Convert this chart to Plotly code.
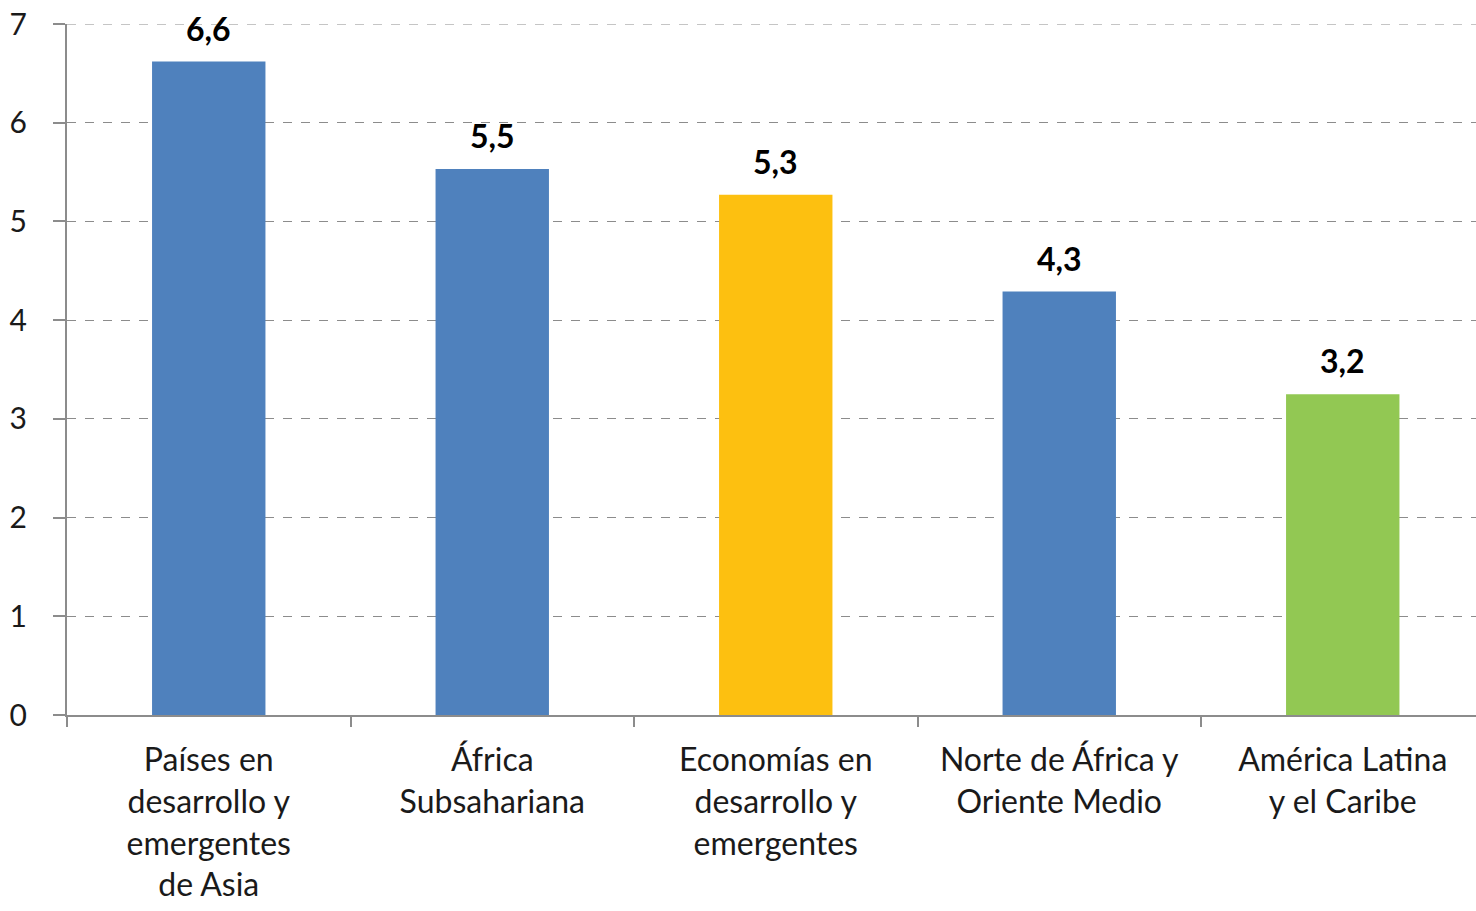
import plotly.graph_objects as go

categories = [
    "Países en<br>desarrollo y<br>emergentes<br>de Asia",
    "África<br>Subsahariana",
    "Economías en<br>desarrollo y<br>emergentes",
    "Norte de África y<br>Oriente Medio",
    "América Latina<br>y el Caribe",
]
values = [6.62, 5.53, 5.27, 4.29, 3.25]
value_labels = ["6,6", "5,5", "5,3", "4,3", "3,2"]
bar_colors = ["#4F81BD", "#4F81BD", "#FDC010", "#4F81BD", "#92C853"]
y_ticks = [0, 1, 2, 3, 4, 5, 6, 7]

FONT = "Lato, 'Open Sans', sans-serif"
GRID = "#8C8C8C"

fig = go.Figure(go.Bar(
    x=categories,
    y=values,
    marker=dict(color=bar_colors, line=dict(width=0)),
    hoverinfo="skip",
))

# value labels sit a bit higher above the bars than plotly's outside text
for cat, val, lab in zip(categories, values, value_labels):
    fig.add_annotation(
        x=cat, y=val, text=f"<b>{lab}</b>",
        showarrow=False, yanchor="bottom", yshift=12,
        font=dict(size=32, color="#000000", family=FONT),
    )

# plotly skips the gridline on the top edge of the range, draw it by hand
fig.add_shape(
    type="line", xref="paper", yref="y", x0=0, x1=1, y0=y_ticks[-1], y1=y_ticks[-1],
    line=dict(color=GRID, width=1, dash="dash"), layer="below",
)

fig.update_layout(
    width=1476,
    height=911,
    margin=dict(l=67, r=0, t=24, b=196),
    paper_bgcolor="white",
    plot_bgcolor="white",
    bargap=0.6,
    showlegend=False,
    font=dict(family=FONT, color="#000000"),
    xaxis=dict(
        range=[-0.5, 4.47],
        automargin=False,
        showline=True,
        linecolor=GRID,
        linewidth=2,
        ticks="outside",
        tickson="boundaries",
        ticklen=10,
        tickcolor=GRID,
        tickwidth=2,
        ticklabelstandoff=16,
        tickfont=dict(size=32, family=FONT, color="#1a1a1a"),
        showgrid=False,
    ),
    yaxis=dict(
        range=[0, 7],
        automargin=False,
        tickvals=y_ticks,
        showline=True,
        linecolor=GRID,
        linewidth=2,
        ticks="outside",
        ticklen=12,
        tickcolor=GRID,
        tickwidth=2,
        ticklabelstandoff=20,
        ticklabeloverflow="allow",
        tickfont=dict(size=30, family=FONT, color="#1a1a1a"),
        showgrid=True,
        gridcolor=GRID,
        griddash="dash",
        gridwidth=1,
        zeroline=False,
    ),
)

# drop the page's default body margin so the figure sits at the window corner
fig.write_html(
    "out.html",
    config={"displayModeBar": False},
    post_script="document.body.style.margin='0';",
)
